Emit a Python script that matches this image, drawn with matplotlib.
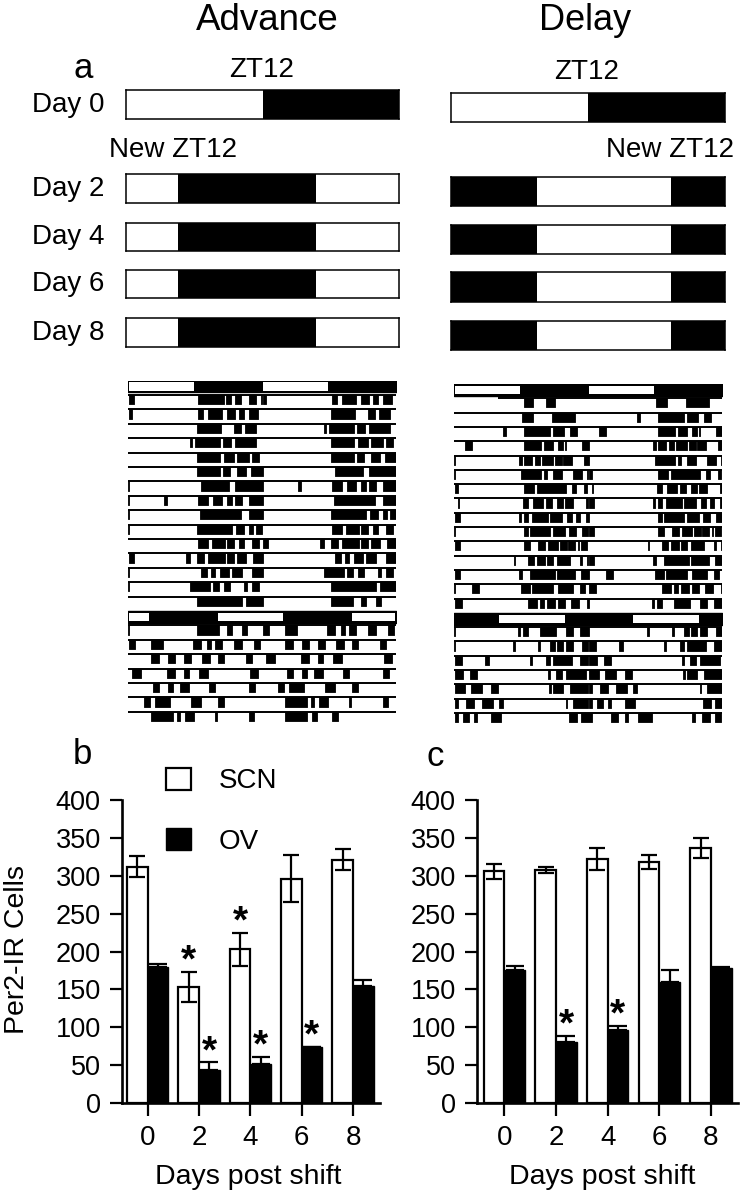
import numpy as np
import matplotlib
matplotlib.use('Agg')
import matplotlib.pyplot as plt
from matplotlib.patches import Patch

plt.rcParams['font.family'] = ['Liberation Sans', 'DejaVu Sans']

W, H = 742, 1199

# ---- panel b / c data (Per2-IR cells) ----
days = [0, 2, 4, 6, 8]
adv_scn = [312, 153, 203, 296, 321]
adv_scn_err = [14, 20, 22, 31, 14]
adv_ov = [179, 43, 52, 74, 154]
adv_ov_err = [5, 11, 9, 0, 8]
adv_scn_sig = [False, True, True, False, False]
adv_ov_sig = [False, True, True, True, False]

dly_scn = [306, 307, 322, 318, 337]
dly_scn_err = [10, 4, 15, 9, 13]
dly_ov = [176, 80, 96, 160, 178]
dly_ov_err = [5, 9, 6, 15, 1]
dly_scn_sig = [False, False, False, False, False]
dly_ov_sig = [False, True, True, False, False]

# ---- panel a schematic: dark intervals (h) ----
day_labels = ['Day 0', 'Day 2', 'Day 4', 'Day 6', 'Day 8']
adv_dark = [[(12, 24)], [(4.6, 16.7)], [(4.6, 16.7)], [(4.6, 16.7)], [(4.6, 16.7)]]
dly_dark = [[(12, 24)], [(0, 7.5), (19.3, 24)], [(0, 7.5), (19.3, 24)],
            [(0, 7.5), (19.3, 24)], [(0, 7.5), (19.3, 24)]]

# ---- actograms: light phase of LD before / after shift ----
old_light = [(0, 12)]
adv_new_light = [(0, 3.9), (15.9, 24)]
dly_new_light = [(7.9, 20.0)]

# activity bouts per day (start h, end h)
adv_bouts = [
    [(0.2, 1.0), (12.5, 17.2), (17.6, 18.4), (19.2, 20.2), (21.7, 23.0), (23.8, 24)],
    [(0.2, 0.8), (12.6, 13.5), (14.4, 16.9), (17.7, 19.2), (19.9, 20.8), (21.7, 23.3)],
    [(12.3, 16.6), (18.9, 20.2), (21.0, 22.9)],
    [(11.1, 11.5), (12.0, 16.4), (17.0, 18.4), (19.2, 22.9)],
    [(12.4, 16.4), (17.2, 18.9), (19.5, 21.6), (22.2, 23.5)],
    [(12.3, 16.4), (17.0, 18.3), (19.5, 21.1), (22.0, 24)],
    [(0, 0.25), (13.1, 18.0), (19.2, 24)],
    [(0, 0.25), (6.5, 6.9), (12.5, 14.4), (15.3, 16.8), (17.8, 18.7), (19.2, 20.5), (21.7, 24)],
    [(0, 0.25), (12.9, 20.2), (21.7, 24)],
    [(0, 0.25), (12.3, 18.6), (19.3, 20.7), (21.6, 22.3), (23.0, 24)],
    [(12.5, 14.4), (15.0, 17.3), (17.8, 19.0), (19.9, 20.8), (22.2, 23.5)],
    [(0.2, 1.1), (10.3, 11.1), (12.4, 13.6), (14.4, 17.3), (17.8, 19.0), (19.5, 21.1), (22.4, 24)],
    [(0, 0.25), (13.1, 14.2), (14.8, 15.6), (16.4, 18.1), (18.7, 20.5), (22.2, 24)],
    [(0, 0.25), (11.1, 14.7), (15.3, 16.3), (17.2, 18.3), (20.8, 21.3), (22.2, 23.5)],
    [(12.3, 20.5), (21.1, 24)],
    [(0, 0.25), (12.3, 16.3), (17.8, 18.7), (20.5, 21.3)],
    [(0.2, 1.2), (4.1, 6.3), (11.7, 13.0), (14.2, 14.9), (15.6, 16.8), (18.9, 20.4), (22.5, 23.6)],
    [(4.1, 5.5), (7.2, 8.5), (10.0, 11.3), (13.3, 14.6), (16.1, 17.2), (21.1, 22.2)],
    [(0.8, 2.3), (6.9, 8.5), (10.0, 11.0), (12.8, 14.4), (21.9, 23.2)],
    [(4.5, 5.5), (7.2, 8.1), (9.4, 11.0), (14.5, 15.6), (21.6, 22.8)],
    [(2.9, 3.9), (4.8, 7.5), (11.2, 13.0), (16.1, 17.2)],
    [(4.1, 8.1), (8.7, 9.3), (10.2, 11.8), (15.6, 16.0), (21.7, 22.6)],
    [(4.2, 8.1), (8.9, 9.9), (12.5, 13.7)],
]
dly_bouts = [
    [(12.5, 14.2), (16.4, 18.1)],
    [(12.2, 14.2), (17.5, 21.7)],
    [(8.7, 9.4), (12.5, 17.2), (17.8, 19.7), (20.8, 22.1)],
    [(2.0, 3.3), (12.5, 15.5), (16.1, 17.8), (18.7, 19.6), (19.9, 20.1), (22.9, 24)],
    [(0, 0.2), (11.6, 12.1), (12.5, 13.9), (14.5, 15.4), (15.8, 17.8), (18.1, 19.3), (19.6, 21.1), (23.3, 24)],
    [(0, 0.2), (12.0, 15.5), (16.1, 16.6), (17.8, 19.4), (21.4, 23.0), (23.9, 24)],
    [(0.2, 0.8), (12.5, 14.4), (14.8, 20.0), (21.1, 21.9), (23.2, 23.8)],
    [(0.7, 0.9), (12.3, 13.3), (14.2, 16.0), (16.4, 17.5), (18.4, 19.6), (19.9, 21.4), (23.6, 24)],
    [(0.2, 1.1), (11.6, 12.0), (12.5, 13.3), (13.9, 16.9), (17.2, 19.3), (20.3, 21.1), (21.8, 22.5), (23.6, 24)],
    [(0, 0.2), (12.5, 13.2), (13.6, 17.2), (17.8, 19.9), (20.6, 21.8), (22.9, 24)],
    [(0.2, 1.1), (12.5, 13.6), (15.0, 16.3), (16.8, 18.7), (19.0, 20.2), (20.5, 21.6), (22.2, 22.4), (22.7, 23.8)],
    [(10.8, 11.0), (13.3, 14.4), (14.8, 16.3), (16.6, 17.8), (18.4, 20.8), (22.6, 23.0), (23.9, 24)],
    [(0.2, 1.1), (11.6, 12.1), (13.6, 18.1), (18.4, 21.7), (22.7, 24)],
    [(0, 0.2), (3.3, 4.4), (12.0, 13.6), (13.9, 17.8), (18.7, 21.4), (22.6, 23.5)],
    [(0.2, 1.4), (13.3, 14.8), (15.4, 16.1), (16.6, 18.1), (18.6, 19.8), (21.0, 22.3), (23.8, 24)],
    [(0, 0.2), (11.4, 11.8), (12.4, 13.3), (15.4, 18.2), (20.0, 21.4), (22.6, 24)],
    [(0, 0.2), (10.6, 10.9), (15.0, 15.4), (17.2, 18.1), (18.4, 19.6), (20.0, 21.4), (22.9, 24)],
    [(0.2, 1.4), (5.6, 6.3), (13.6, 14.0), (16.4, 17.2), (17.8, 21.1), (22.6, 24)],
    [(0.2, 1.6), (2.8, 4.2), (16.9, 17.2), (18.3, 19.4), (20.0, 23.6)],
    [(0.2, 2.0), (3.0, 5.0), (6.6, 7.8), (17.0, 17.3), (17.8, 19.6), (20.8, 24)],
    [(0.2, 0.8), (2.1, 3.5), (5.0, 6.9), (8.1, 8.8), (20.0, 20.3), (21.4, 24)],
    [(0.2, 0.8), (1.7, 2.6), (3.5, 4.2), (6.7, 8.5), (20.6, 22.0), (22.7, 24)],
    [(0, 0.7), (4.2, 5.4), (6.6, 7.2), (9.0, 11.4), (18.6, 19.2), (20.4, 21.9), (22.7, 23.8)],
]
adv_record_start = 0.0
dly_record_start = 7.8


def px_axes(fig, x0, y0, x1, y1):
    return fig.add_axes([x0 / W, 1 - y1 / H, (x1 - x0) / W, (y1 - y0) / H])


def px_text(fig, x, y, s, **kw):
    fig.text(x / W, 1 - y / H, s, **kw)


def merge(intervals):
    out = []
    for s, e in sorted(intervals):
        if out and s <= out[-1][1] + 1e-6:
            out[-1] = (out[-1][0], max(out[-1][1], e))
        else:
            out.append((s, e))
    return out


def ld_bar(ax, row, light):
    ax.broken_barh([(0, 48)], (row, 0.82), facecolor='black', edgecolor='black', lw=1.0)
    lt = merge(light + [(s + 24, e + 24) for s, e in light])
    ax.broken_barh([(s + 0.15, e - s - 0.3) for s, e in lt], (row + 0.13, 0.56),
                   facecolor='white', edgecolor='none')


def actogram(ax, bouts, light_before, light_after, start):
    ax.set_xlim(0, 48)
    ax.set_ylim(24, 0)
    ax.axis('off')
    ld_bar(ax, 0, light_before)
    n_rows = len(bouts) - 1
    row = 1
    for d in range(n_rows):
        if d == 15:
            ld_bar(ax, row, light_after)
            row += 1
        x0 = start if d == 0 else 0
        ax.hlines(row, x0, 48, color='black', lw=1.4)
        seg = bouts[d] + [(s + 24, e + 24) for s, e in bouts[d + 1]]
        seg = merge(seg)
        ax.broken_barh([(s, e - s) for s, e in seg], (row, 0.64),
                       facecolor='black', edgecolor='black', lw=0.6)
        row += 1


def schematic(fig, x0, x1, rows_px, dark_list):
    for (y0, y1), dark in zip(rows_px, dark_list):
        ax = px_axes(fig, x0, y0, x1, y1)
        ax.set_xlim(0, 24)
        ax.set_ylim(0, 1)
        ax.set_xticks([])
        ax.set_yticks([])
        for sp in ax.spines.values():
            sp.set_linewidth(1.1)
        ax.broken_barh([(s, e - s) for s, e in dark], (0, 1), facecolor='black')


def bar_panel(ax, scn, scn_err, ov, ov_err, scn_sig, ov_sig, xlim):
    x = np.array(days, dtype=float)
    w = 0.8
    ekw = dict(elinewidth=1.6, capthick=1.6, ecolor='black')
    ax.bar(x - w / 2, scn, w, color='white', edgecolor='black', lw=1.6,
           yerr=scn_err, capsize=5.7, error_kw=ekw, zorder=2)
    ax.bar(x + w / 2, ov, w, color='black', edgecolor='black', lw=1.0,
           yerr=[np.zeros(len(ov_err)), ov_err], capsize=6.2, error_kw=ekw, zorder=2)
    for xs, vals, errs, sig in [(x - w / 2, scn, scn_err, scn_sig), (x + w / 2, ov, ov_err, ov_sig)]:
        for xi, v, e, s in zip(xs, vals, errs, sig):
            if s:
                ax.text(xi, v + e, '*', ha='center', va='baseline',
                        fontsize=28, fontweight='bold')
    ax.set_xlim(*xlim)
    ax.set_ylim(0, 400)
    ax.set_yticks(range(0, 401, 50))
    ax.set_xticks(days)
    ax.spines['top'].set_visible(False)
    ax.spines['right'].set_visible(False)
    for sp in ['left', 'bottom']:
        ax.spines[sp].set_linewidth(1.9)
    ax.tick_params(axis='y', length=9, width=1.6, labelsize=19.5, pad=6)
    ax.tick_params(axis='x', length=9.5, width=1.6, labelsize=20, pad=6)
    ax.set_xlabel('Days post shift', fontsize=20.5)
    ax.xaxis.label.set_verticalalignment('center')


fig = plt.figure(figsize=(W / 100, H / 100), dpi=100)

# titles and panel letters
px_text(fig, 267, 20, 'Advance', ha='center', va='center', fontsize=26.5)
px_text(fig, 585, 20, 'Delay', ha='center', va='center', fontsize=26)
px_text(fig, 83, 69, 'a', ha='center', va='center', fontsize=25)
px_text(fig, 82, 754, 'b', ha='center', va='center', fontsize=25)
px_text(fig, 435, 757, 'c', ha='center', va='center', fontsize=25)

# panel a schematic
adv_rows_px = [(90, 119), (174, 203), (223, 251), (270, 298), (318, 347)]
dly_rows_px = [(93, 122), (177, 206), (225, 254), (272, 302), (321, 350)]
schematic(fig, 126, 399, adv_rows_px, adv_dark)
schematic(fig, 451, 725, dly_rows_px, dly_dark)
for (y0, y1), lab in zip(adv_rows_px, day_labels):
    px_text(fig, 104, (y0 + y1) / 2, lab, ha='right', va='center', fontsize=20)
px_text(fig, 262, 70, 'ZT12', ha='center', va='center', fontsize=20)
px_text(fig, 587, 72, 'ZT12', ha='center', va='center', fontsize=20)
px_text(fig, 173, 150, 'New ZT12', ha='center', va='center', fontsize=20)
px_text(fig, 670, 150, 'New ZT12', ha='center', va='center', fontsize=20)

# actograms
ax_adv = px_axes(fig, 128, 380.6, 396, 380.6 + 14.4 * 24)
actogram(ax_adv, adv_bouts, old_light, adv_new_light, adv_record_start)
ax_dly = px_axes(fig, 454, 384, 722, 384 + 14.3 * 24)
actogram(ax_dly, dly_bouts, old_light, dly_new_light, dly_record_start)

# panels b and c
ax_b = px_axes(fig, 121.7, 800, 380, 1103)
bar_panel(ax_b, adv_scn, adv_scn_err, adv_ov, adv_ov_err, adv_scn_sig, adv_ov_sig, (-1.01, 9.05))
ax_b.xaxis.set_label_coords(0.489, -0.244)
ax_b.set_ylabel('Per2-IR Cells', fontsize=20.5)
ax_b.yaxis.set_label_coords(-0.355, 0.505)
ax_b.legend(handles=[Patch(facecolor='white', edgecolor='black', lw=1.6),
                     Patch(facecolor='black', edgecolor='black')],
            labels=['SCN', 'OV'], loc='upper left', bbox_to_anchor=(0.1715, 1.107),
            frameon=False, fontsize=20, handlelength=0.9, handleheight=0.85,
            handletextpad=1.0, labelspacing=1.22, borderpad=0, borderaxespad=0)

ax_c = px_axes(fig, 476.7, 800, 738.3, 1103)
bar_panel(ax_c, dly_scn, dly_scn_err, dly_ov, dly_ov_err, dly_scn_sig, dly_ov_sig, (-1.07, 9.06))
ax_c.xaxis.set_label_coords(0.479, -0.244)

fig.savefig('out.png', dpi=100)
